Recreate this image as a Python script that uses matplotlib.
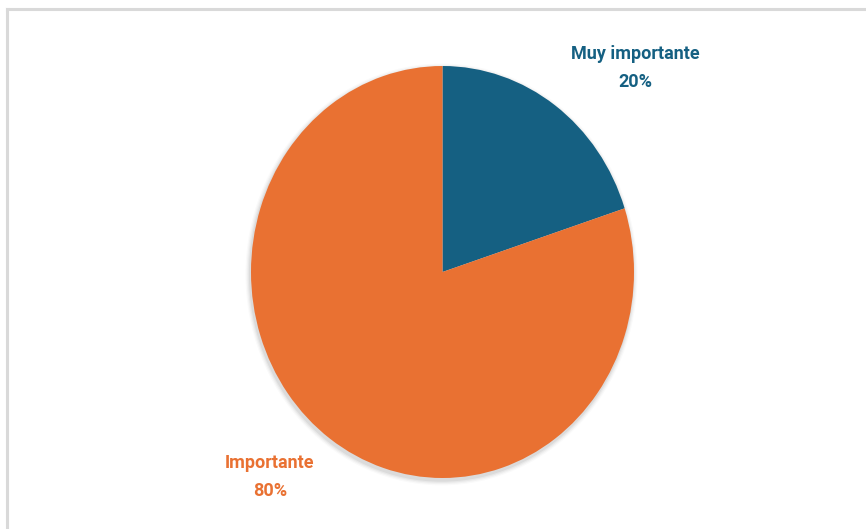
import matplotlib
matplotlib.use('Agg')
import matplotlib.pyplot as plt
from matplotlib.patches import Ellipse
from matplotlib.lines import Line2D

# Datos del gráfico
categorias = ['Muy importante', 'Importante']
porcentajes = [20, 80]
colores = ['#156082', '#E97132']

W, H = 866, 529
fig = plt.figure(figsize=(W / 100, H / 100), dpi=100)
ax = fig.add_axes([0, 0, 1, 1])

# centro y radios del pastel en pixeles (la imagen está un poco estirada)
cx, cy, rx, ry = 442.5, 272, 191.5, 206

# sombra suave
for i, a in enumerate([0.05, 0.04, 0.03, 0.02]):
    ax.add_patch(Ellipse((-0.005, -0.012), 2 + 0.012 * (i + 1), 2 + 0.012 * (i + 1),
                         facecolor='black', edgecolor='none', alpha=a, zorder=0))

ax.pie(porcentajes, colors=colores, startangle=90, counterclock=False,
       wedgeprops=dict(linewidth=0), radius=1)
ax.set_aspect('auto')
ax.set_xlim(-cx / rx, (W - cx) / rx)
ax.set_ylim(-(H - cy) / ry, cy / ry)
ax.axis('off')

# etiquetas
pos_etiquetas = [(635, 68), (270, 477)]
for cat, pct, col, (px, py) in zip(categorias, porcentajes, colores, pos_etiquetas):
    fig.text(px / W, 1 - py / H, f'{cat}\n{pct}%', color=col, fontsize=13,
             fontweight='bold', family='Roboto', ha='center', va='center',
             linespacing=1.7)

# borde del marco
fig.add_artist(Line2D([7 / W, 1], [1 - 9 / H, 1 - 9 / H], color='#d9d9d9', lw=2.2,
                      transform=fig.transFigure))
fig.add_artist(Line2D([7 / W, 7 / W], [0, 1 - 9 / H], color='#d9d9d9', lw=2.2,
                      transform=fig.transFigure))

fig.savefig('out.png', dpi=100, facecolor='white')
